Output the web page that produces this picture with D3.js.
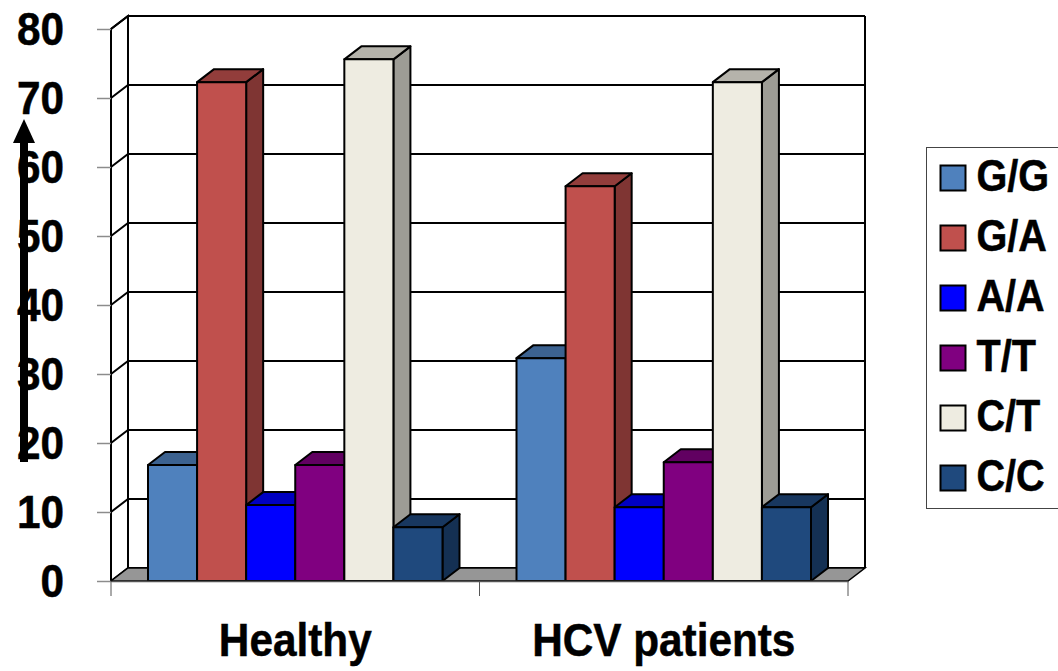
<!DOCTYPE html>
<html>
<head>
<meta charset="utf-8">
<script src="https://cdnjs.cloudflare.com/ajax/libs/d3/7.8.5/d3.min.js"></script>
<style>
html, body { margin: 0; padding: 0; background: #fff; }
svg { display: block; }
text { font-family: "Liberation Sans", Arial, sans-serif; font-weight: bold; fill: #000; stroke: #000; stroke-width: 0.5px; }
</style>
</head>
<body>
<div id="chart"></div>
<script>
var categories = ["Healthy", "HCV patients"];
var genotypes = ["G/G", "G/A", "A/A", "T/T", "C/T", "C/C"];
var healthy = [16.8, 72.3, 11, 16.8, 75.6, 7.8];
var hcvPatients = [32.3, 57.2, 10.7, 17.2, 72.3, 10.7];
var yTicks = [0, 10, 20, 30, 40, 50, 60, 70, 80];
var colors = ["#4F81BD", "#C0504D", "#0000FF", "#800080", "#EEECE1", "#1F497D"];

var svgWidth = 1058, svgHeight = 671;
var margin = {top: 29, right: 210, bottom: 90, left: 111};
var width = svgWidth - margin.left - margin.right;
var height = svgHeight - margin.top - margin.bottom;
// depth of the fake 3d box
var dx = 17, dy = -13;

var svg = d3.select("#chart").append("svg")
    .attr("width", svgWidth)
    .attr("height", svgHeight);
var g = svg.append("g")
    .attr("transform", "translate(" + margin.left + "," + margin.top + ")");

var x0 = d3.scaleBand().domain(categories).range([0, width]);
var x1 = d3.scaleBand().domain(genotypes).range([37, x0.bandwidth() - 37]);
var y = d3.scaleLinear().domain([0, 80]).range([height, 0]);

function pts(arr) {
    return arr.map(function(p) { return p.join(","); }).join(" ");
}

// the reference type is a bit narrower than Liberation Sans bold
function squeeze(sel, k) {
    sel.each(function() {
        d3.select(this)
            .attr("textLength", this.getComputedTextLength() * k)
            .attr("lengthAdjust", "spacingAndGlyphs");
    });
}

// gridlines, side wall + back wall
yTicks.forEach(function(t) {
    g.append("polyline")
        .attr("points", pts([[0, y(t)], [dx, y(t) + dy], [width + dx, y(t) + dy]]))
        .attr("fill", "none")
        .attr("stroke", "#000")
        .attr("stroke-width", 2);
});
g.append("polyline")
    .attr("points", pts([[0, y(0)], [0, y(80)], [dx, y(80) + dy], [dx, y(0) + dy]]))
    .attr("fill", "none").attr("stroke", "#000").attr("stroke-width", 2);
g.append("line")
    .attr("x1", width + dx).attr("x2", width + dx)
    .attr("y1", y(80) + dy).attr("y2", y(0) + dy)
    .attr("stroke", "#000").attr("stroke-width", 2);

// floor
g.append("polygon")
    .attr("points", pts([[0, y(0)], [dx, y(0) + dy], [width + dx, y(0) + dy], [width, y(0)]]))
    .attr("fill", "#969696")
    .attr("stroke", "#000")
    .attr("stroke-width", 1.5);

// bars, left to right so each front hides the side of the one before
var rows = [healthy, hcvPatients];
categories.forEach(function(cat, i) {
    rows[i].forEach(function(v, j) {
        var left = x0(cat) + x1(genotypes[j]);
        var right = left + x1.bandwidth();
        var top = y(v), bottom = y(0);
        var c = d3.color(colors[j]);
        var bar = g.append("g")
            .attr("stroke", "#000")
            .attr("stroke-width", 2)
            .attr("stroke-linejoin", "round");
        bar.append("polygon")
            .attr("points", pts([[right, top], [right + dx, top + dy], [right + dx, bottom + dy], [right, bottom]]))
            .attr("fill", d3.rgb(c.r * 0.66, c.g * 0.66, c.b * 0.66));
        bar.append("polygon")
            .attr("points", pts([[left, top], [left + dx, top + dy], [right + dx, top + dy], [right, top]]))
            .attr("fill", d3.rgb(c.r * 0.76, c.g * 0.76, c.b * 0.76));
        bar.append("rect")
            .attr("x", left).attr("y", top)
            .attr("width", x1.bandwidth()).attr("height", bottom - top)
            .attr("fill", colors[j]);
    });
});

// axes
var yAxis = d3.axisLeft(y).tickValues(yTicks).tickSize(14).tickPadding(33);
var yAxisG = g.append("g").call(yAxis);
yAxisG.select(".domain").remove();
yAxisG.selectAll("line").attr("stroke", "#8c8c8c").attr("stroke-width", 1.5);
yAxisG.selectAll("text").attr("font-size", 47).attr("font-family", null).call(squeeze, 0.9);

var xAxisG = g.append("g").attr("transform", "translate(0," + height + ")")
    .call(d3.axisBottom(x0).tickSize(0).tickPadding(42));
xAxisG.select(".domain").attr("stroke", "#555").attr("stroke-width", 1.5);
xAxisG.selectAll("text").attr("font-size", 47).attr("font-family", null).call(squeeze, 0.9);
[0, x0.bandwidth(), width].forEach(function(px) {
    xAxisG.append("line").attr("x1", px).attr("x2", px).attr("y1", 0).attr("y2", 15)
        .attr("stroke", "#555").attr("stroke-width", 1);
});

// arrow over the tick labels
var defs = svg.append("defs");
defs.append("marker").attr("id", "head")
    .attr("markerUnits", "userSpaceOnUse")
    .attr("markerWidth", 24).attr("markerHeight", 24)
    .attr("refX", 0).attr("refY", 12).attr("orient", "auto")
    .append("path").attr("d", "M0,1 L24,12 L0,23 Z").attr("fill", "#000");
svg.append("line")
    .attr("x1", 24).attr("x2", 24).attr("y1", 462).attr("y2", 143)
    .attr("stroke", "#000").attr("stroke-width", 8)
    .attr("marker-end", "url(#head)");

// legend
var legend = svg.append("g").attr("transform", "translate(926.5,147.5)");
legend.append("rect").attr("width", 140).attr("height", 361)
    .attr("fill", "#fff").attr("stroke", "#444").attr("stroke-width", 1);
var items = legend.selectAll(".item").data(genotypes).enter().append("g")
    .attr("class", "item")
    .attr("transform", function(d, i) { return "translate(14," + (18 + i * 60) + ")"; });
items.append("rect").attr("width", 25).attr("height", 25)
    .attr("fill", function(d, i) { return colors[i]; })
    .attr("stroke", "#000").attr("stroke-width", 2);
items.append("text").attr("x", 36).attr("y", 25).attr("font-size", 44)
    .text(function(d) { return d; })
    .call(squeeze, 0.9);
</script>
</body>
</html>
